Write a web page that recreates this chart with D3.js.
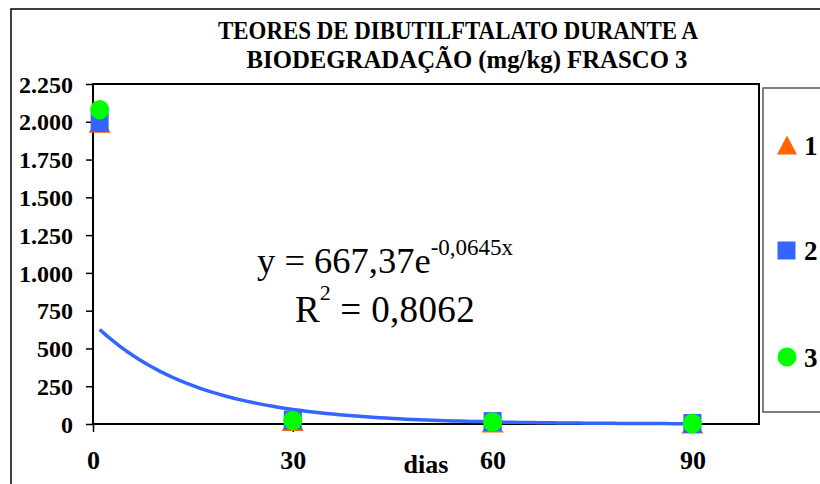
<!DOCTYPE html>
<html><head><meta charset="utf-8">
<script src="https://cdn.jsdelivr.net/npm/d3@7"></script>
<style>html,body{margin:0;padding:0;background:#fff;overflow:hidden}</style>
</head><body>
<svg id="c" width="820" height="484"></svg>
<script>
// ---- data ----
const titleLines = ["TEORES DE DIBUTILFTALATO DURANTE A", "BIODEGRADAÇÃO (mg/kg) FRASCO 3"];
const days = [1, 30, 60, 90];
const serie1 = [1990, 16, 7, 0];     // triângulo
const serie2 = [1995, 26, 16, 3];    // quadrado
const serie3 = [2080, 23, 13, 3];    // círculo
const seriesNames = ["1", "2", "3"];
const yTicks = [0, 250, 500, 750, 1000, 1250, 1500, 1750, 2000, 2250];
const xTicks = [0, 30, 60, 90];
const xLabel = "dias";
const trendA = 667.37, trendB = -0.0645;
const trendRange = [1, 90];
const eqText = ["y = 667,37e", "-0,0645x", "R", "2", " = 0,8062"];

const serif = "'Liberation Serif','Times New Roman',serif";
const svg = d3.select("#c");
const L = 93, R = 759, T = 84, B = 424;
const x = d3.scaleLinear().domain([0, 100]).range([L, R]);
const y = d3.scaleLinear().domain([0, 2250]).range([B, T]);

// outer chart border
svg.append("rect").attr("x", 11).attr("y", 9).attr("width", 830).attr("height", 500)
  .attr("fill", "none").attr("stroke", "#000").attr("stroke-width", 1.5);

// title
const tl = [[458, 39, 480], [467, 68, 441]];
titleLines.forEach((t, i) => {
  svg.append("text").attr("x", tl[i][0]).attr("y", tl[i][1]).attr("text-anchor", "middle")
    .attr("font-family", serif).attr("font-weight", "bold").attr("font-size", 25)
    .attr("textLength", tl[i][2]).attr("lengthAdjust", "spacingAndGlyphs").text(t);
});

// plot area border
svg.append("rect").attr("x", L).attr("y", T).attr("width", R - L).attr("height", B - T)
  .attr("fill", "#fff").attr("stroke", "#000").attr("stroke-width", 2);

// y axis
const ya = svg.append("g").attr("transform", `translate(${L},0)`)
  .call(d3.axisLeft(y).tickValues(yTicks).tickSize(7).tickPadding(13)
    .tickFormat(d => d3.format(",")(d).replace(/,/g, ".")));
ya.select(".domain").remove();
ya.selectAll("line").attr("stroke", "#000").attr("stroke-width", 1.5);
ya.selectAll("text").attr("font-family", serif).attr("font-weight", "bold")
  .attr("font-size", 24).attr("fill", "#000").attr("dy", "0.34em");

// x axis
const xa = svg.append("g").attr("transform", `translate(0,${B})`)
  .call(d3.axisBottom(x).tickValues(xTicks).tickSize(8));
xa.select(".domain").remove();
xa.selectAll("line").attr("stroke", "#000").attr("stroke-width", 1.5);
xa.selectAll("text").attr("font-family", serif).attr("font-weight", "bold")
  .attr("font-size", 26).attr("fill", "#000").attr("y", 45).attr("dy", 0);

svg.append("text").attr("x", 426).attr("y", 473).attr("text-anchor", "middle")
  .attr("font-family", serif).attr("font-weight", "bold").attr("font-size", 26).text(xLabel);

// trend line
const tdays = d3.range(trendRange[0], trendRange[1] + 0.001, 1);
svg.append("path").datum(tdays)
  .attr("d", d3.line().x(d => x(d)).y(d => y(trendA * Math.exp(trendB * d))))
  .attr("fill", "none").attr("stroke", "#3366FF").attr("stroke-width", 3.5)
  .attr("stroke-linejoin", "round");

// markers
const triPath = (cx, cy, w, h) => `M${cx},${cy - h / 2}L${cx + w / 2},${cy + h / 2}L${cx - w / 2},${cy + h / 2}Z`;
const g = svg.append("g");
g.selectAll(".tri").data(days.map((d, i) => [d, serie1[i]])).join("path")
  .attr("d", d => triPath(x(d[0]), y(d[1]), 22, 19)).attr("fill", "#FF6600");
g.selectAll(".sq").data(days.map((d, i) => [d, serie2[i]])).join("rect")
  .attr("x", d => x(d[0]) - 9).attr("y", d => y(d[1]) - 9.5).attr("width", 18).attr("height", 19)
  .attr("fill", "#3366FF");
g.selectAll(".ci").data(days.map((d, i) => [d, serie3[i]])).join("ellipse")
  .attr("cx", d => x(d[0])).attr("cy", d => y(d[1])).attr("rx", 9.5).attr("ry", 9.8)
  .attr("fill", "#00FF00");

// equation
const eq1 = svg.append("text").attr("x", 257).attr("y", 273).attr("font-family", serif).attr("font-size", 36.5);
eq1.append("tspan").text(eqText[0]);
eq1.append("tspan").attr("font-size", 23).attr("dy", -18).text(eqText[1]);
const eq2 = svg.append("text").attr("x", 295).attr("y", 322).attr("font-family", serif).attr("font-size", 37);
eq2.append("tspan").text(eqText[2]);
eq2.append("tspan").attr("font-size", 22).attr("dy", -22).text(eqText[3]);
eq2.append("tspan").attr("dy", 22).attr("textLength", 144).text(eqText[4]);

// legend
svg.append("rect").attr("x", 763).attr("y", 88).attr("width", 100).attr("height", 324)
  .attr("fill", "#fff").attr("stroke", "#555").attr("stroke-width", 1.5);
const ly = [145, 250.5, 357];
svg.append("path").attr("d", triPath(787, ly[0], 20, 19)).attr("fill", "#FF6600");
svg.append("rect").attr("x", 777.5).attr("y", ly[1] - 9).attr("width", 18).attr("height", 18).attr("fill", "#3366FF");
svg.append("circle").attr("cx", 787).attr("cy", ly[2]).attr("r", 9.5).attr("fill", "#00FF00");
seriesNames.forEach((n, i) => {
  svg.append("text").attr("x", 804).attr("y", ly[i] + 9.5).attr("font-family", serif)
    .attr("font-weight", "bold").attr("font-size", 27).text(n);
});
</script>
</body></html>
